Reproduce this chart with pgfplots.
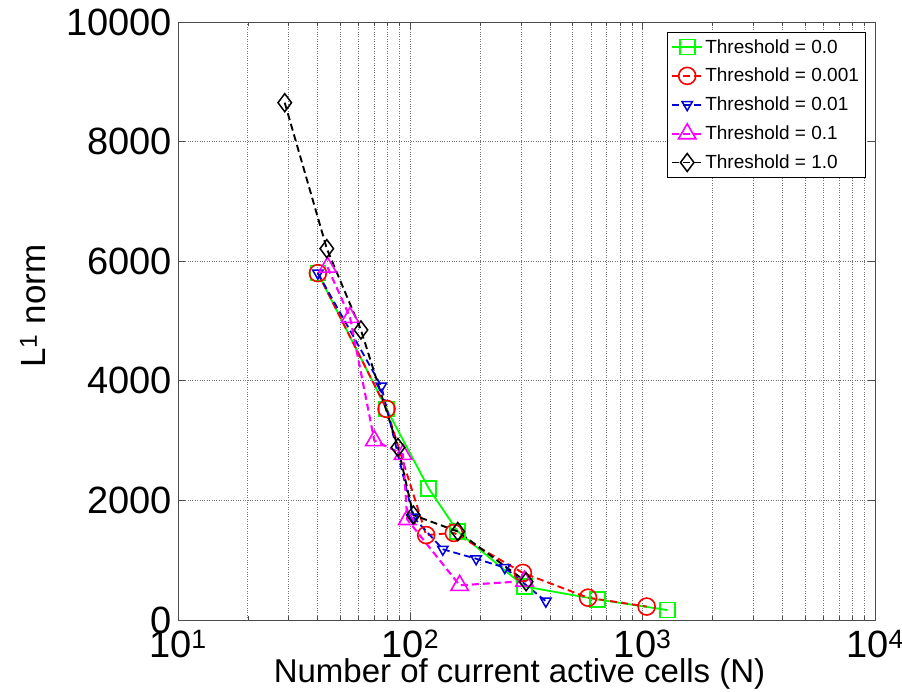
\documentclass[border=0pt]{standalone}
\usepackage{fontspec}
\setmainfont{Liberation Sans}
\usepackage{pgfplots}
\pgfplotsset{compat=1.18}
\definecolor{mgreen}{rgb}{0,1,0}
\definecolor{mred}{rgb}{1,0,0}
\definecolor{mblue}{rgb}{0,0,0.85}
\definecolor{mmag}{rgb}{1,0,1}
\begin{document}
\begin{tikzpicture}
\useasboundingbox (-178pt,-72pt) rectangle (724pt,620pt);
\begin{axis}[
  at={(0pt,0pt)}, anchor=south west,
  xmode=log, scale only axis, width=697pt, height=598pt,
  xmin=10, xmax=10000, ymin=0, ymax=10000,
  scaled y ticks=false,
  xtick={10,100,1000,10000},
  xticklabels={10\textsuperscript{1},10\textsuperscript{2},10\textsuperscript{3},10\textsuperscript{4}},
  ytick={0,2000,4000,6000,8000,10000},
  yticklabels={0,2000,4000,6000,8000,10000},
  tick label style={font=\fontsize{38}{40}\selectfont},
  xticklabel style={anchor=base, inner sep=0pt, yshift=-38pt},
  yticklabel style={anchor=east, inner sep=0pt, xshift=-6pt},
  label style={font=\fontsize{33}{36}\selectfont},
  xlabel={Number of current active cells (N)},
  ylabel={L\textsuperscript{1} norm},
  xlabel style={at={(axis description cs:0.49,0)}, anchor=base, inner sep=0pt, yshift=-63pt},
  ylabel style={at={(axis description cs:-0.208,0.525)}, anchor=center, inner sep=0pt, font=\fontsize{35}{38}\selectfont},
  grid=both,
  major grid style={black!55, dotted, line width=0.9pt},
  minor grid style={black!55, dotted, line width=0.9pt},
  tick align=inside, major tick length=7pt, minor tick length=4pt,
  tick style={black!70, line width=0.8pt},
  axis line style={black!70, line width=0.9pt},
  legend style={at={(0.986,0.983)}, anchor=north east,
    font=\fontsize{19}{21}\selectfont, draw=black, line width=0.6pt,
    inner xsep=4pt, inner ysep=5pt, row sep=9.5pt},
  legend cell align=left,
  legend image code/.code={\draw[mark repeat=2,mark phase=2] plot coordinates {(0pt,0pt) (15pt,0pt) (30pt,0pt)};},
]
\addplot[mgreen, line width=1.8pt, mark=square, mark size=7.5pt, mark options={solid, line width=1.6pt}]
  coordinates {(40,5800) (79,3530) (120,2200) (160,1480) (310,560) (640,343) (1280,166)};
\addlegendentry{Threshold = 0.0}
\addplot[mred, line width=1.9pt, dash pattern=on 7pt off 4pt, mark=o, mark size=8.5pt, mark options={solid, line width=1.6pt}]
  coordinates {(40,5800) (79,3530) (117,1420) (154,1456) (305,787) (582,373) (1040,225)};
\addlegendentry{Threshold = 0.001}
\addplot[mblue, line width=1.8pt, dash pattern=on 7pt off 4pt, mark=triangle, mark size=6pt, mark options={solid, rotate=180, line width=1.5pt}]
  coordinates {(40,5800) (75,3910) (103,1720) (138,1183) (192,1024) (255,876) (383,314)};
\addlegendentry{Threshold = 0.01}
\addplot[mmag, line width=2.1pt, dash pattern=on 7pt off 4pt, mark=triangle, mark size=10pt, mark options={solid, line width=1.6pt}]
  coordinates {(44,5900) (55,5060) (70,3000) (93,2770) (97,1680) (163,580) (310,650)};
\addlegendentry{Threshold = 0.1}
\addplot[black, line width=1.9pt, dash pattern=on 7pt off 4pt, mark=diamond, mark size=9pt, mark options={solid, line width=1.5pt}]
  coordinates {(28.8,8650) (43.7,6210) (61.3,4850) (88.5,2885) (103,1755) (160,1480) (315,640)};
\addlegendentry{Threshold = 1.0}
\end{axis}
\end{tikzpicture}
\end{document}
